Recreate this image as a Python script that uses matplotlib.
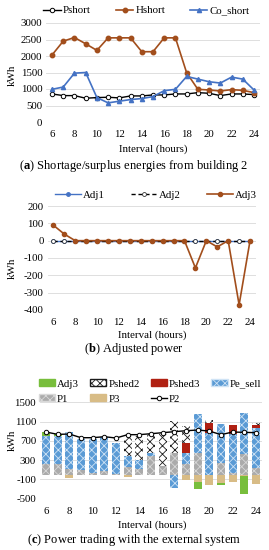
import matplotlib
matplotlib.use("Agg")
import matplotlib.pyplot as plt
import numpy as np
from matplotlib.lines import Line2D
from matplotlib.patches import Patch

plt.rcParams['font.family'] = ['Liberation Serif', 'DejaVu Serif']
plt.rcParams['mathtext.fontset'] = 'custom'
plt.rcParams['mathtext.rm'] = 'Liberation Serif'
plt.rcParams['mathtext.bf'] = 'Liberation Serif:bold'
plt.rcParams['hatch.linewidth'] = 0.6

# ---------------- data ----------------
hours = list(range(6, 25))
xticks = [6, 8, 10, 12, 14, 16, 18, 20, 22, 24]

# (a) shortage/surplus energies from building 2
pshort = [850, 800, 800, 720, 740, 750, 730, 790, 790, 820, 820, 850, 850, 890, 870, 800, 850, 850, 830]
hshort = [2030, 2450, 2560, 2370, 2170, 2550, 2550, 2550, 2130, 2130, 2550, 2550, 1490, 990, 970, 940, 980, 960, 890]
co_short = [990, 1060, 1480, 1500, 740, 580, 630, 680, 710, 770, 950, 990, 1380, 1300, 1220, 1180, 1360, 1300, 970]

# (b) adjusted power
adj1 = [0] * 19
adj2 = [0] * 19
adj3 = [89, 38, 0, 0, 0, 0, 0, 0, 0, 0, 0, 0, 0, -157, 0, -36, 0, -370, 0]

# (c) power trading with external system
c_adj3 = [89, 38, 0, 0, 0, 0, 0, 0, 0, 0, 0, 0, 0, -157, 0, -36, 0, -370, 0]
pshed2 = [0, 0, 0, 0, 0, 0, 0, 420, 500, 400, 670, 670, 370, 0, 50, 0, 0, 0, 30]
pshed3 = [0, 0, 0, 0, 0, 0, 0, 0, 0, 0, 0, 0, 200, 0, 210, 0, 180, 0, 80]
pe_sell = [570, 580, 770, 650, 720, 720, 640, 230, 180, 70, 0, -270, 230, 810, 870, 810, 820, 840, 830]
p1 = [230, 220, 110, 100, 30, 70, 20, 150, 120, 380, 180, 450, 220, 440, 0, 240, 30, 430, 130]
p3 = [0, 0, -80, 0, 0, 0, 0, -50, 0, 0, 0, 0, -120, -150, -220, -180, -150, -30, -200]
p2 = [885, 836, 843, 767, 767, 788, 760, 830, 830, 850, 871, 892, 912, 926, 905, 830, 885, 878, 871]

W, H = 269, 550
fig = plt.figure(figsize=(W / 100, H / 100), dpi=100)

def add_ax(left, right, top, bottom):
    return fig.add_axes([left / W, 1 - bottom / H, (right - left) / W, (bottom - top) / H])

def style(ax, yt):
    for s in ax.spines.values():
        s.set_visible(False)
    ax.set_xlim(5.5, 24.5)
    ax.set_xticks(xticks)
    ax.set_yticks(yt)
    ax.set_yticklabels([str(v) for v in yt])
    ax.tick_params(length=0, labelsize=7.8, pad=3)
    ax.tick_params(axis='x', pad=6)
    ax.grid(axis='y', color='#D9D9D9', lw=0.6)
    ax.set_axisbelow(True)

BROWN = '#A24E1C'
BLUE = '#4472C4'

# ---------- panel a ----------
axa = add_ax(46.4, 259.6, 23, 122)
style(axa, [0, 500, 1000, 1500, 2000, 2500, 3000])
axa.set_ylim(0, 3000)
axa.plot(hours, pshort, color='black', lw=1.0, marker='o', ms=3.2, mfc='white', mec='black', mew=0.7, label='Pshort', zorder=3)
axa.plot(hours, hshort, color=BROWN, lw=1.2, marker='o', ms=3.2, mfc=BROWN, mec=BROWN, label='Hshort', zorder=3)
axa.plot(hours, co_short, color=BLUE, lw=1.2, marker='^', ms=3.0, mfc=BLUE, mec=BLUE, label='Co_short', zorder=3)
axa.legend(loc='lower center', bbox_to_anchor=(0.47, 1.0), ncol=3, frameon=False, fontsize=7.8,
           handlelength=1.6, handletextpad=0.2, columnspacing=2.3, borderaxespad=0.3)
fig.text(12 / W, 1 - 75 / H, 'kWh', rotation=90, ha='center', va='center', fontsize=7.8)
fig.text(153 / W, 1 - 149 / H, 'Interval (hours)', ha='center', va='center', fontsize=7.8)
fig.text(134 / W, 1 - 166 / H, r'($\mathbf{a}$) Shortage/surplus energies from building 2', ha='center', va='center', fontsize=9)

# ---------- panel b ----------
axb = add_ax(47.9, 255.5, 206, 310)
style(axb, [-400, -300, -200, -100, 0, 100, 200])
axb.set_ylim(-400, 200)
axb.plot(hours, adj1, color=BLUE, lw=1.0, marker='o', ms=2.5, mfc=BLUE, mec=BLUE, label='Adj1', zorder=3)
axb.plot(hours, adj2, color='black', lw=1.0, ls=(0, (3, 2)), marker='o', ms=2.8, mfc='white', mec='#333333', mew=0.6, label='Adj2', zorder=3)
axb.plot(hours, adj3, color=BROWN, lw=1.2, marker='o', ms=3.0, mfc=BROWN, mec=BROWN, label='Adj3', zorder=4)
axb.legend(loc='lower center', bbox_to_anchor=(0.52, 1.0), ncol=3, frameon=False, fontsize=7.8,
           handlelength=2.4, handletextpad=0.2, columnspacing=2.4, borderaxespad=0.2)
fig.text(12 / W, 1 - 268 / H, 'kWh', rotation=90, ha='center', va='center', fontsize=7.8)
fig.text(152 / W, 1 - 335 / H, 'Interval (hours)', ha='center', va='center', fontsize=7.8)
fig.text(134 / W, 1 - 349 / H, r'($\mathbf{b}$) Adjusted power', ha='center', va='center', fontsize=9)

# ---------- panel c ----------
axc = add_ax(40.2, 261.8, 402.4, 498.7)
style(axc, [-500, -100, 300, 700, 1100, 1500])
axc.set_ylim(-500, 1500)
x = np.array(hours, dtype=float)
bw = 0.68
pos_b = np.zeros(len(hours))
neg_b = np.zeros(len(hours))
series = [
    ('P1', p1, dict(facecolor='#ABABAB', edgecolor='#D8D8D8', hatch='xxxx')),
    ('Pe_sell', pe_sell, dict(facecolor='#5B9BD5', edgecolor='#CFE3F5', hatch='xxxx')),
    ('P3', p3, dict(facecolor='#D8BC86', edgecolor='#D8BC86')),
    ('Pshed3', pshed3, dict(facecolor='#B02012', edgecolor='#B02012')),
    ('Pshed2', pshed2, dict(facecolor='white', edgecolor='#1A1A1A', hatch='xxxx')),
    ('Adj3', c_adj3, dict(facecolor='#78BE3C', edgecolor='#78BE3C')),
]
for name, vals, kw in series:
    v = np.array(vals, dtype=float)
    pos = np.where(v > 0, v, 0)
    neg = np.where(v < 0, v, 0)
    axc.bar(x, pos, bw, bottom=pos_b, linewidth=0, zorder=2, **kw)
    axc.bar(x, neg, bw, bottom=neg_b, linewidth=0, zorder=2, **kw)
    pos_b += pos
    neg_b += neg
axc.plot(hours, p2, color='black', lw=1.0, marker='o', ms=3.2, mfc='white', mec='black', mew=0.7, zorder=4)

handles = [
    Patch(facecolor='#78BE3C', edgecolor='#78BE3C', label='Adj3'),
    Patch(facecolor='#ABABAB', edgecolor='#D8D8D8', hatch='xxxx', label='P1'),
    Patch(facecolor='white', edgecolor='#1A1A1A', hatch='xxxx', label='Pshed2'),
    Patch(facecolor='#D8BC86', edgecolor='#D8BC86', label='P3'),
    Patch(facecolor='#B02012', edgecolor='#B02012', label='Pshed3'),
    Line2D([], [], color='black', lw=1.0, marker='o', ms=3.2, mfc='white', mec='black', mew=0.7, label='P2'),
    Patch(facecolor='#5B9BD5', edgecolor='#CFE3F5', hatch='xxxx', label='Pe_sell'),
]
fig.legend(handles=handles, loc='center', bbox_to_anchor=(150 / W, 1 - 391.5 / H), ncol=4, frameon=False,
           fontsize=7.8, handlelength=1.5, handleheight=0.6, handletextpad=0.2, columnspacing=1.0,
           labelspacing=0.55)
fig.text(12 / W, 1 - 440 / H, 'kWh', rotation=90, ha='center', va='center', fontsize=7.8)
fig.text(152 / W, 1 - 525 / H, 'Interval (hours)', ha='center', va='center', fontsize=7.8)
fig.text(134 / W, 1 - 540 / H, r'($\mathbf{c}$) Power trading with the external system', ha='center', va='center', fontsize=9)

fig.savefig('out.png', dpi=100, facecolor='white')
